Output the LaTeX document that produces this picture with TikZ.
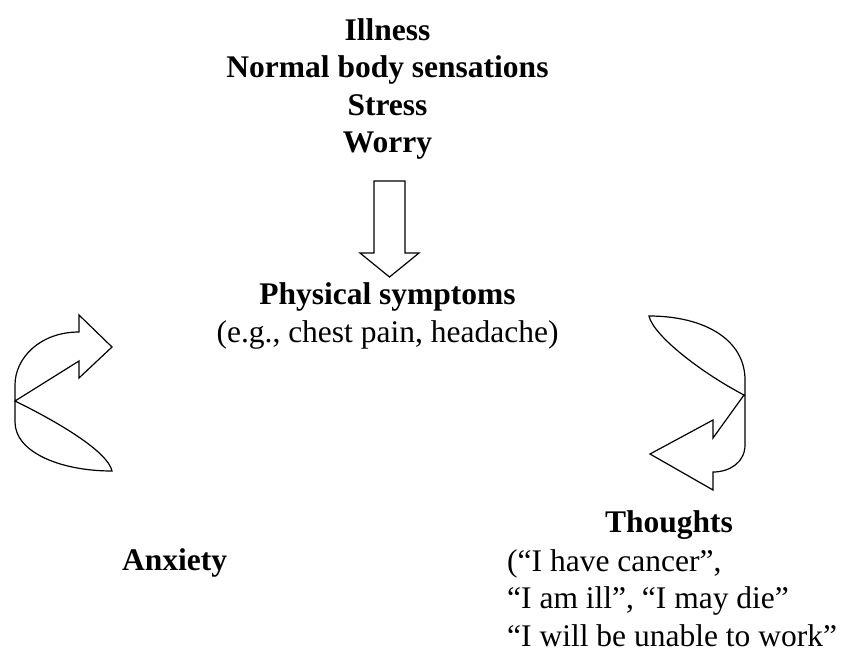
\documentclass[tikz,border=0pt]{standalone}
\usepackage{fontspec}
\setmainfont{Liberation Serif}
\usetikzlibrary{positioning}
\tikzstyle{txt}        = [inner sep=0pt, text height=22pt, text depth=7pt,
                          font=\fontsize{31.5}{37.7}\selectfont]
\tikzstyle{hdr}        = [txt, font=\fontsize{31.5}{37.7}\selectfont\bfseries]
\tikzstyle{blockarrow} = [draw=black, line width=1.2pt, fill=white]

\begin{document}
\begin{tikzpicture}[x=1pt, y=-1pt, node distance=37.5pt]
    \useasboundingbox (0,0) rectangle (842,648);
    % causes
    \node (illness) [hdr, anchor=base] at (387.5,40) {Illness};
    \node (normal) [hdr, below of=illness] {Normal body sensations};
    \node (stress) [hdr, below of=normal] {Stress};
    \node (worry) [hdr, below of=stress] {Worry};
    % symptoms
    \node (physical) [hdr, anchor=base] at (387.5,304) {Physical symptoms};
    \node (examples) [txt, node distance=38pt, below of=physical] {(e.g., chest pain, headache)};
    % cycle
    \node (anxiety) [hdr, anchor=base west] at (122,570) {Anxiety};
    \node (thoughts) [hdr, anchor=base] at (669,532) {Thoughts};
    \node (thA) [txt, anchor=base west] at (507,571) {(“I have cancer”,};
    \node (thB) [txt, below=8.5pt of thA.south west, anchor=north west] {“I am ill”, “I may die”};
    \node (thC) [txt, below=8.5pt of thB.south west, anchor=north west] {“I will be unable to work”};
    % block arrows
    \draw[blockarrow] (374,181) -- (405,181) -- (405,253) -- (419,253) -- (389.5,277)
        -- (360,253) -- (374,253) -- cycle;
    \draw[blockarrow] (15,401) -- (79,361) -- (79,378) -- (112,347) -- (79,315) -- (79,332)
        .. controls (40,332) and (15,358) .. (15,385) -- (15,422)
        .. controls (15,452) and (60,471) .. (112,471)
        .. controls (108,452) and (60,423) .. (15,401) -- cycle;
    \draw[blockarrow] (649,316) .. controls (705,316) and (745,340) .. (745,380) -- (745,445)
        .. controls (745,462) and (730,472) .. (713,472) -- (713,490) -- (650,454)
        -- (713,420) -- (713,438) -- (744,395)
        .. controls (700,372) and (653,335) .. (649,316) -- cycle;
\end{tikzpicture}
\end{document}
